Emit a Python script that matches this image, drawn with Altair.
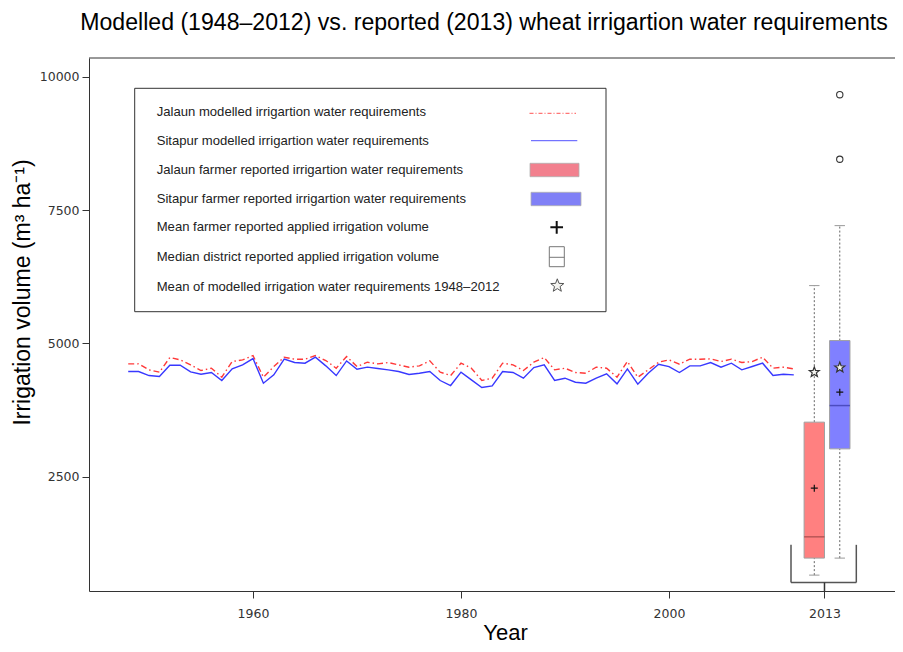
import math
import altair as alt
import pandas as pd

# ---------------- data ----------------
years = list(range(1948, 2013))
jalaun_modelled = [
    4617, 4617, 4505, 4461, 4736, 4692, 4598, 4492, 4536, 4367,
    4661, 4692, 4773, 4367, 4567, 4742, 4705, 4705, 4773, 4680,
    4536, 4755, 4567, 4648, 4617, 4642, 4598, 4555, 4580, 4673,
    4461, 4398, 4630, 4536, 4305, 4348, 4630, 4598, 4492, 4648,
    4736, 4505, 4536, 4455, 4442, 4555, 4536, 4367, 4661, 4367,
    4505, 4648, 4692, 4611, 4705, 4705, 4711, 4661, 4705, 4642,
    4661, 4742, 4536, 4555, 4523,
]
sitapur_modelled = [
    4473, 4473, 4398, 4380, 4592, 4592, 4467, 4423, 4455, 4305,
    4523, 4598, 4717, 4255, 4411, 4705, 4642, 4630, 4742, 4580,
    4398, 4673, 4517, 4555, 4530, 4505, 4473, 4417, 4442, 4473,
    4305, 4211, 4461, 4317, 4173, 4205, 4473, 4455, 4348, 4548,
    4598, 4305, 4348, 4273, 4255, 4348, 4430, 4242, 4523, 4236,
    4442, 4611, 4567, 4455, 4580, 4580, 4642, 4555, 4630, 4505,
    4567, 4630, 4398, 4423, 4411,
]

districts = ["Jalaun", "Sitapur"]
box_q1 = [974, 3023]
box_median = [1373, 3835]
box_q3 = [3524, 5054]
whisker_low = [655, 974]
whisker_high = [6085, 7210]
mean_reported = [2286, 4086]
mean_modelled = [4461, 4548]
outlier_district = ["Sitapur", "Sitapur"]
outlier_values = [8455, 9666]

x_ticks = [1960, 1980, 2000]
y_ticks = [2500, 5000, 7500, 10000]

legend_labels = [
    "Jalaun modelled irrigartion water requirements",
    "Sitapur modelled irrigartion water requirements",
    "Jalaun farmer reported irrigartion water requirements",
    "Sitapur farmer reported irrigartion water requirements",
    "Mean farmer reported applied irrigation volume",
    "Median district reported applied irrigation volume",
    "Mean of modelled irrigation water requirements 1948\u20132012",
]

# ---------------- layout / style constants ----------------
W, H = 806, 533
X_DOMAIN = [1944.23, 1944.23 + W / 10.4]
Y_DOMAIN = [357, 10354]
BOX_CENTER = {"Jalaun": 2013.97, "Sitapur": 2016.42}
BOX_HALF = 0.98
CAP_HALF = 0.5
TICK_2013 = 2014.95
BRACKET = dict(x1=2011.73, x2=2018.01, xc=TICK_2013, ytop=1223, ybot=516)
FILL = {"Jalaun": "#ff8080", "Sitapur": "#8080ff"}
MED_COL = {"Jalaun": "#b85656", "Sitapur": "#4c4cc0"}

xs = alt.Scale(domain=X_DOMAIN, nice=False, zero=False)
ys = alt.Scale(domain=Y_DOMAIN, nice=False, zero=False)


def star_path(r_in=0.42):
    pts = []
    for i in range(10):
        a = -math.pi / 2 + i * math.pi / 5
        r = 1.0 if i % 2 == 0 else r_in
        pts.append((r * math.cos(a), r * math.sin(a)))
    return "M" + "L".join(f"{x:.3f},{y:.3f}" for x, y in pts) + "Z"


STAR = star_path()
PLUS = "M-1,0L1,0M0,-1L0,1"

lines_df = pd.DataFrame({"year": years, "jal": jalaun_modelled, "sit": sitapur_modelled})

box_df = pd.DataFrame({
    "district": districts,
    "q1": box_q1, "med": box_median, "q3": box_q3,
    "lo": whisker_low, "hi": whisker_high,
    "mean_rep": mean_reported, "mean_mod": mean_modelled,
})
box_df["c"] = box_df["district"].map(BOX_CENTER)
box_df["x1"] = box_df["c"] - BOX_HALF
box_df["x2"] = box_df["c"] + BOX_HALF
box_df["cx1"] = box_df["c"] - CAP_HALF
box_df["cx2"] = box_df["c"] + CAP_HALF
box_df["fill"] = box_df["district"].map(FILL)
box_df["medcol"] = box_df["district"].map(MED_COL)

out_df = pd.DataFrame({"district": outlier_district, "v": outlier_values})
out_df["c"] = out_df["district"].map(BOX_CENTER)

br_df = pd.DataFrame([BRACKET])

x_axis = alt.Axis(
    values=x_ticks + [TICK_2013],
    labelExpr="datum.value > 2010 ? '2013' : format(datum.value, 'd')",
    title="Year", grid=False, tickSize=7, tickColor="#333", domainColor="#333",
    labelColor="#333", labelFont="DejaVu Sans", labelFontSize=12.5, labelPadding=9,
    titleFont="Liberation Sans", titleFontSize=22, titleFontWeight="normal",
    titleColor="#000", titleX=416, titleY=48, titleBaseline="alphabetic",
    titleAlign="center",
)
y_axis = alt.Axis(
    values=y_ticks, format="d",
    title="Irrigation volume (m\u00b3 ha\u207b\u00b9)", grid=False, tickSize=7,
    tickColor="#333", domainColor="#333", labelColor="#333",
    labelFont="DejaVu Sans", labelFontSize=12.5, labelPadding=3,
    titleFont="Liberation Sans", titleFontSize=23, titleFontWeight="normal",
    titleColor="#000", titleAngle=270, titleX=-67, titleY=234,
    titleBaseline="middle", titleAlign="center",
)


def X(f):
    return alt.X(f, type="quantitative", scale=xs, axis=x_axis)


def Y(f):
    return alt.Y(f, type="quantitative", scale=ys, axis=y_axis)


red_line = alt.Chart(lines_df).mark_line(
    color="#ff3838", strokeWidth=1.4, strokeDash=[6, 3, 1.5, 3]
).encode(x=X("year"), y=Y("jal"))
blue_line = alt.Chart(lines_df).mark_line(color="#3838ff", strokeWidth=1.4).encode(
    x=X("year"), y=Y("sit")
)

top_frame = alt.Chart(alt.Data(values=[{}])).mark_rule(color="#333", strokeWidth=1).encode(
    x=alt.value(0), x2=alt.value(W), y=alt.value(0)
)

whisk_lo = alt.Chart(box_df).mark_rule(color="#666", strokeDash=[2, 2], strokeWidth=1).encode(
    x=X("c"), y=Y("lo"), y2="q1"
)
whisk_hi = alt.Chart(box_df).mark_rule(color="#666", strokeDash=[2, 2], strokeWidth=1).encode(
    x=X("c"), y=Y("q3"), y2="hi"
)
cap_lo = alt.Chart(box_df).mark_rule(color="#999", strokeWidth=1).encode(
    x=X("cx1"), x2="cx2", y=Y("lo")
)
cap_hi = alt.Chart(box_df).mark_rule(color="#999", strokeWidth=1).encode(
    x=X("cx1"), x2="cx2", y=Y("hi")
)
boxes = alt.Chart(box_df).mark_rect(stroke="#a0a0a0", strokeWidth=1).encode(
    x=X("x1"), x2="x2", y=Y("q1"), y2="q3",
    fill=alt.Fill("fill:N", scale=None),
)
medians = alt.Chart(box_df).mark_rule(strokeWidth=1.5).encode(
    x=X("x1"), x2="x2", y=Y("med"),
    color=alt.Color("medcol:N", scale=None),
)
means = alt.Chart(box_df).mark_point(
    shape=PLUS, size=49, filled=False, stroke="#111", strokeWidth=1.2, opacity=1
).encode(x=X("c"), y=Y("mean_rep"))
stars = alt.Chart(box_df).mark_point(
    shape=STAR, size=110, filled=True, fill="#f4f4f0", stroke="#333", strokeWidth=1.2, opacity=1
).encode(x=X("c"), y=Y("mean_mod"))
outliers = alt.Chart(out_df).mark_point(
    shape="circle", size=40, filled=False, stroke="#333", strokeWidth=1.1, opacity=1
).encode(x=X("c"), y=Y("v"))

br_left = alt.Chart(br_df).mark_rule(color="#555", strokeWidth=1.5).encode(
    x=X("x1"), y=Y("ybot"), y2="ytop")
br_right = alt.Chart(br_df).mark_rule(color="#555", strokeWidth=1.5).encode(
    x=X("x2"), y=Y("ybot"), y2="ytop")
br_bottom = alt.Chart(br_df).mark_rule(color="#555", strokeWidth=1.5).encode(
    x=X("x1"), x2="x2", y=Y("ybot"))
br_tick = alt.Chart(br_df).mark_rule(color="#333", strokeWidth=1.5).encode(
    x=X("xc"), y=Y("ybot"), y2=alt.Y2(datum=Y_DOMAIN[0]))

one = alt.Data(values=[{}])

title_mark = alt.Chart(one).mark_text(
    font="Liberation Sans", fontSize=23.1, color="#000", align="center", baseline="alphabetic"
).encode(x=alt.value(395), y=alt.value(-28),
         text=alt.value("Modelled (1948\u20132012) vs. reported (2013) wheat irrigartion water requirements"))

legend_layers = [
    alt.Chart(one).mark_rect(fill="white", stroke="#333", strokeWidth=1).encode(
        x=alt.value(45.7), x2=alt.value(517), y=alt.value(30.3), y2=alt.value(253.7)),
]
row_y = [53.7, 82.7, 112, 141, 169.3, 199.3, 228.7]
for lab, yy in zip(legend_labels, row_y):
    legend_layers.append(
        alt.Chart(one).mark_text(
            font="Liberation Sans", fontSize=13.1, color="#222", align="left", baseline="middle"
        ).encode(x=alt.value(67.7), y=alt.value(yy), text=alt.value(lab))
    )
legend_layers += [
    alt.Chart(one).mark_rule(color="#ff4040", strokeWidth=0.9, strokeDash=[4, 2, 1, 2]).encode(
        x=alt.value(440.5), x2=alt.value(487), y=alt.value(55.3)),
    alt.Chart(one).mark_rule(color="#4040ff", strokeWidth=0.9).encode(
        x=alt.value(442), x2=alt.value(488.3), y=alt.value(82.7)),
    alt.Chart(one).mark_rect(fill="#f2808e", stroke="#b0b0b0", strokeWidth=0.8).encode(
        x=alt.value(441), x2=alt.value(490), y=alt.value(105.3), y2=alt.value(118.7)),
    alt.Chart(one).mark_rect(fill="#8080f6", stroke="#b0b0b0", strokeWidth=0.8).encode(
        x=alt.value(442), x2=alt.value(492), y=alt.value(134.3), y2=alt.value(147.7)),
    alt.Chart(one).mark_point(shape=PLUS, size=160, filled=False, stroke="#111",
                              strokeWidth=2, opacity=1).encode(
        x=alt.value(467.7), y=alt.value(169.3)),
    alt.Chart(one).mark_rect(fill="white", stroke="#777", strokeWidth=1).encode(
        x=alt.value(460.3), x2=alt.value(475.3), y=alt.value(188.7), y2=alt.value(208.7)),
    alt.Chart(one).mark_rule(color="#777", strokeWidth=1).encode(
        x=alt.value(460.3), x2=alt.value(475.3), y=alt.value(199.3)),
    alt.Chart(one).mark_point(shape=STAR, size=190, filled=True, fill="#f4f4f0",
                              stroke="#555", strokeWidth=1, opacity=1).encode(
        x=alt.value(468.3), y=alt.value(227.7)),
]

chart = alt.layer(
    red_line, blue_line, top_frame,
    whisk_lo, whisk_hi, cap_lo, cap_hi, boxes, medians, means, stars, outliers,
    br_left, br_right, br_bottom, br_tick,
    title_mark, *legend_layers,
).properties(
    width=W, height=H,
    autosize=alt.AutoSizeParams(type="none"),
    padding={"left": 81, "top": 50, "right": 0, "bottom": 53},
    background="white",
).configure_view(stroke=None)

chart.save("out.html", embed_options={"renderer": "svg", "actions": False})
